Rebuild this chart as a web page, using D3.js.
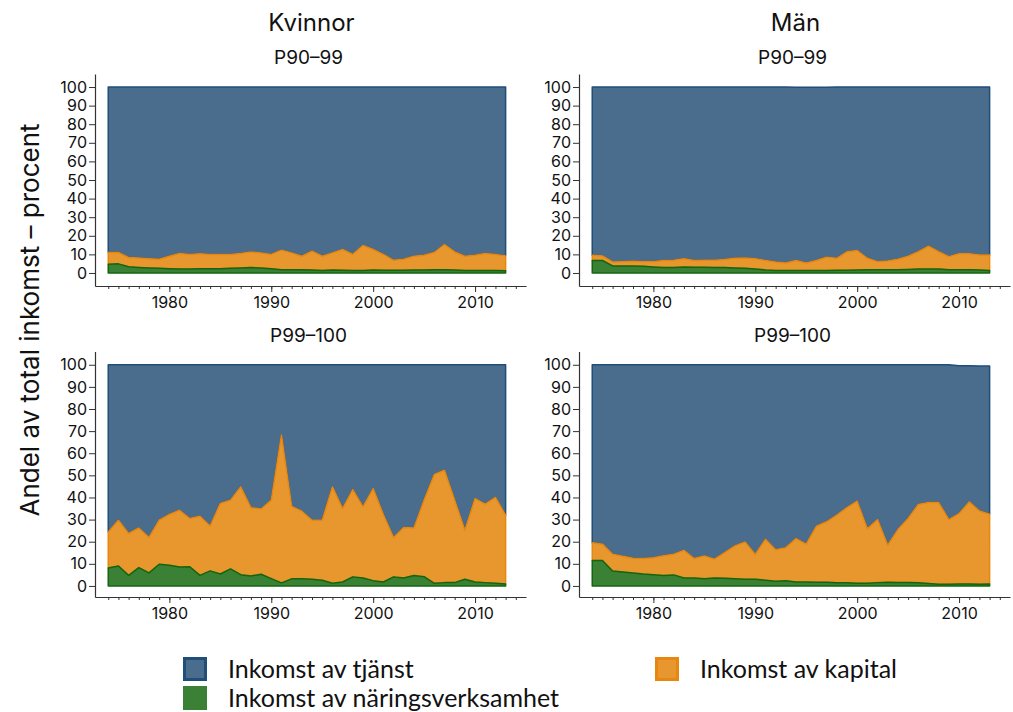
<!DOCTYPE html>
<html lang="sv">
<head>
    <meta charset="UTF-8">
    <title>Andel av total inkomst</title>
    <style>
        body { margin: 0; background: #fff; }
        svg text { font-family: Inter, "Open Sans", sans-serif; fill: #111; }
        .axis path, .axis line { stroke: #333; }
        .axis text { font-size: 16px; }
        .legend text { font-family: Lato, sans-serif; font-size: 25px; }
    </style>
    <script src="https://d3js.org/d3.v7.min.js"></script>
</head>
<body>
<svg id="chart" width="1013" height="712"></svg>
<script>
    // years on the x axis
    const years = d3.range(1974, 2014);

    // Kvinnor, P90-99
    const kvP90Nar = [4.7,4.9,3.4,3.0,2.7,2.5,2.3,2.2,2.2,2.3,2.3,2.3,2.5,2.7,2.9,2.7,2.3,1.8,1.8,1.8,1.6,1.4,1.6,1.5,1.4,1.4,1.6,1.5,1.5,1.5,1.6,1.6,1.8,1.8,1.6,1.4,1.4,1.3,1.3,1.2];
    const kvP90Kap = [6.3,6.1,4.9,5.1,5.0,4.9,6.7,8.3,7.8,8.1,7.7,7.7,7.5,7.8,8.4,8.1,7.7,10.5,9.0,7.2,10.1,7.6,9.2,11.1,8.6,13.4,11.0,8.5,5.3,5.9,7.4,7.9,9.2,13.5,9.7,7.6,8.1,9.2,8.7,8.0];
    const kvP90Tja = [89.0,89.0,91.7,91.9,92.3,92.6,91.0,89.5,90.0,89.6,90.0,90.0,90.0,89.5,88.7,89.2,90.0,87.7,89.2,91.0,88.3,91.0,89.2,87.4,90.0,85.2,87.4,90.0,93.2,92.6,91.0,90.5,89.0,84.7,88.7,91.0,90.5,89.5,90.0,90.8];

    // Män, P90-99
    const manP90Nar = [6.7,6.7,3.8,3.8,3.8,3.6,3.2,2.9,2.9,3.2,3.1,3.1,2.9,3.0,2.7,2.5,2.2,1.6,1.4,1.4,1.4,1.4,1.4,1.4,1.5,1.5,1.6,1.7,1.8,1.8,1.8,1.9,2.1,2.2,2.1,1.8,1.8,1.8,1.6,1.4];
    const manP90Kap = [2.8,2.5,2.1,2.3,2.5,2.5,2.9,3.8,3.9,4.4,3.6,3.7,3.9,4.2,5.2,5.6,5.4,5.1,4.5,4.0,5.3,4.0,5.3,7.1,6.4,9.9,10.5,6.2,4.3,4.7,5.6,7.1,9.3,12.2,9.3,7.0,8.5,8.5,8.1,8.3];
    const manP90Tja = [90.5,90.8,94.1,93.9,93.7,93.9,93.9,93.3,93.2,92.4,93.3,93.2,93.2,92.8,92.1,91.9,92.4,93.3,94.1,94.6,93.2,94.5,93.2,91.4,92.1,88.6,87.9,92.1,93.9,93.5,92.6,91.0,88.6,85.6,88.6,91.2,89.7,89.7,90.3,90.3];

    // Kvinnor, P99-100
    const kvP99Nar = [8.1,9.0,4.8,8.3,5.9,9.8,9.4,8.6,8.7,4.8,6.8,5.4,7.7,5.1,4.5,5.3,3.3,1.4,3.2,3.2,3.0,2.6,1.2,1.8,4.1,3.6,2.4,1.8,4.1,3.6,4.7,4.2,1.2,1.5,1.5,3.0,1.8,1.5,1.2,0.9];
    const kvP99Kap = [16.3,20.7,18.9,17.9,16.0,19.9,22.9,25.6,21.8,26.7,20.3,31.9,31.1,39.7,30.9,29.5,35.5,66.8,32.8,30.6,26.7,27.1,43.6,33.2,39.5,32.1,41.6,30.5,17.8,22.8,21.5,34.6,49.2,50.8,37.3,22.2,37.7,35.5,38.8,31.1];
    const kvP99Tja = [75.6,70.3,76.3,73.8,78.1,70.3,67.7,65.8,69.5,68.5,72.9,62.7,61.2,55.2,64.6,65.2,61.2,31.8,64.0,66.2,70.3,70.3,55.2,65.0,56.4,64.3,56.0,67.7,78.1,73.6,73.8,61.2,49.6,47.7,61.2,74.8,60.5,63.0,60.0,68.0];

    // Män, P99-100
    const manP99Nar = [11.5,11.5,6.8,6.3,5.9,5.4,5.1,4.7,5.0,3.6,3.6,3.3,3.6,3.5,3.2,3.0,3.0,2.6,2.1,2.3,1.8,1.8,1.7,1.7,1.4,1.4,1.2,1.2,1.5,1.7,1.6,1.5,1.4,1.1,0.8,0.8,0.9,0.9,0.8,0.9];
    const manP99Kap = [8.0,7.4,7.5,7.1,6.6,7.0,7.6,9.0,9.3,12.5,8.8,10.3,8.5,11.6,14.9,16.9,11.2,18.5,14.3,15.0,19.6,17.1,25.3,27.3,30.6,34.0,37.1,24.6,28.5,16.7,23.9,29.0,35.4,36.6,36.9,29.2,31.8,37.1,33.1,31.5];
    const manP99Tja = [80.5,81.1,85.7,86.6,87.5,87.6,87.3,86.3,85.7,83.9,87.6,86.4,87.9,84.9,81.9,80.1,85.8,78.9,83.6,82.7,78.6,81.1,73.0,71.0,68.0,64.6,61.7,74.2,70.0,81.6,74.5,69.5,63.2,62.3,62.3,70.0,66.9,61.6,65.6,67.0];

    const seriesKeys = ["nar", "kap", "tja"];
    const seriesNames = {
        tja: "Inkomst av tjänst",
        kap: "Inkomst av kapital",
        nar: "Inkomst av näringsverksamhet"
    };
    const fills = { tja: "#4a6d8d", kap: "#e8972f", nar: "#3a8035" };
    const strokes = { tja: "#1f4e79", kap: "#e8870f", nar: "#14650f" };

    const columnTitles = ["Kvinnor", "Män"];
    const yTicks = d3.range(0, 101, 10);
    const xMajor = [1980, 1990, 2000, 2010];
    const xMinor = d3.range(1974, 2015);

    const panels = [
        { col: 0, row: 0, title: "P90–99", nar: kvP90Nar, kap: kvP90Kap, tja: kvP90Tja },
        { col: 1, row: 0, title: "P90–99", nar: manP90Nar, kap: manP90Kap, tja: manP90Tja },
        { col: 0, row: 1, title: "P99–100", nar: kvP99Nar, kap: kvP99Kap, tja: kvP99Tja },
        { col: 1, row: 1, title: "P99–100", nar: manP99Nar, kap: manP99Kap, tja: manP99Tja }
    ];

    const svg = d3.select("#chart");

    // layout of the grid
    const colX = [95, 579];
    const plotW = 431;
    const rows = [
        { top: 74, bottom: 286, domain: [-7, 107], subY: 64 },
        { top: 351.5, bottom: 597, domain: [-5, 106], subY: 342 }
    ];

    columnTitles.forEach((t, i) => {
        svg.append("text")
            .attr("x", colX[i] + plotW / 2 + 1)
            .attr("y", 31)
            .attr("text-anchor", "middle")
            .style("font-size", "24px")
            .text(t);
    });

    panels.forEach(p => {
        const r = rows[p.row];
        const x = d3.scaleLinear().domain([1972.7, 2015]).range([colX[p.col], colX[p.col] + plotW]);
        const y = d3.scaleLinear().domain(r.domain).range([r.bottom, r.top]);
        const g = svg.append("g");

        const table = years.map((yr, i) => ({ year: yr, nar: p.nar[i], kap: p.kap[i], tja: p.tja[i] }));
        const stacked = d3.stack().keys(seriesKeys)(table);

        const area = d3.area()
            .x(d => x(d.data.year))
            .y0(d => y(d[0]))
            .y1(d => y(d[1]));

        // blue on the bottom of the draw order so its outline is covered at the seams
        g.selectAll("path.layer")
            .data(stacked.slice().reverse())
            .join("path")
            .attr("class", "layer")
            .attr("d", area)
            .attr("fill", d => fills[d.key])
            .attr("stroke", d => strokes[d.key])
            .attr("stroke-width", 1.5)
            .attr("stroke-linejoin", "round");

        // y axis
        g.append("g")
            .attr("class", "axis")
            .attr("transform", `translate(${colX[p.col]},0)`)
            .call(d3.axisLeft(y).tickValues(yTicks).tickSize(6).tickSizeOuter(0).tickPadding(2))
            .call(a => a.select(".domain").attr("stroke-width", 1.2));

        // x axis, minor yearly ticks
        g.append("g")
            .attr("class", "axis")
            .attr("transform", `translate(0,${r.bottom})`)
            .call(d3.axisBottom(x).tickValues(xMinor).tickFormat("").tickSize(3).tickSizeOuter(0))
            .call(a => a.select(".domain").attr("stroke-width", 1.2));

        // x axis, decade ticks with labels
        g.append("g")
            .attr("class", "axis")
            .attr("transform", `translate(0,${r.bottom})`)
            .call(d3.axisBottom(x).tickValues(xMajor).tickFormat(d3.format("d")).tickSize(6).tickPadding(5))
            .call(a => a.select(".domain").remove());

        svg.append("text")
            .attr("x", colX[p.col] + plotW / 2 - 2)
            .attr("y", r.subY)
            .attr("text-anchor", "middle")
            .style("font-size", "19px")
            .text(p.title);
    });

    // y axis title
    svg.append("text")
        .attr("transform", "translate(39,320) rotate(-90)")
        .attr("text-anchor", "middle")
        .style("font-size", "26px")
        .text("Andel av total inkomst – procent");

    // legend
    const legendItems = [
        { key: "tja", x: 183, y: 657 },
        { key: "kap", x: 655, y: 657 },
        { key: "nar", x: 183, y: 686 }
    ];
    const legend = svg.append("g").attr("class", "legend");
    legendItems.forEach(it => {
        legend.append("rect")
            .attr("x", it.x + 1.5)
            .attr("y", it.y + 1.5)
            .attr("width", 21)
            .attr("height", 21)
            .attr("fill", fills[it.key])
            .attr("stroke", it.key === "nar" ? fills.nar : strokes[it.key])
            .attr("stroke-width", 3);
        legend.append("text")
            .attr("x", it.x + 45)
            .attr("y", it.y + 21)
            .text(seriesNames[it.key]);
    });
</script>
</body>
</html>
